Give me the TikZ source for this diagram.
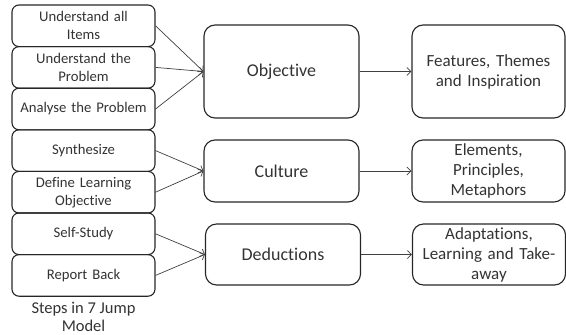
\documentclass[tikz,border=0pt]{standalone}
\usepackage{fontspec}
\setmainfont{Carlito}[RawFeature={-liga}]
\usetikzlibrary{arrows.meta,positioning}

\begin{document}
\begin{tikzpicture}[x=1pt,y=-1pt,
  stepbox/.style={draw=black!85,line width=1.1pt,rounded corners=7pt,
    minimum width=143pt,minimum height=41.6pt,inner sep=1pt,text width=140pt,
    align=center,text=black!80,font=\fontsize{14.7}{18}\selectfont},
  mainbox/.style={draw=black!85,line width=1.1pt,rounded corners=11pt,
    minimum width=155pt,inner sep=1pt,text width=150pt,align=center,
    text=black!80,font=\fontsize{18}{21}\selectfont},
  outbox/.style={draw=black!85,line width=1.1pt,rounded corners=11pt,
    minimum width=153pt,inner sep=1pt,text width=145pt,align=center,
    text=black!80,font=\fontsize{17}{20}\selectfont},
  link/.style={black!75,line width=0.7pt,-{Straight Barb[length=4pt,width=8pt]}}]
\useasboundingbox (0,0) rectangle (566,335);

% Steps in the 7 jump model
\node[stepbox] (s1) at (83.5,25.8) {Understand all\\Items};
\node[stepbox] (s2) at (83.5,67.4) {Understand the\\Problem};
\node[stepbox] (s3) at (83.5,109) {Analyse the Problem};
\node[stepbox] (s4) at (83.5,150.6) {Synthesize};
\node[stepbox] (s5) at (83.5,192.2) {Define Learning\\Objective};
\node[stepbox] (s6) at (83.5,233.8) {Self-Study};
\node[stepbox] (s7) at (83.5,275.4) {Report Back};
\node[align=center,text=black!80,font=\fontsize{16.5}{17.5}\selectfont] (cap) at (83.5,317) {Steps in 7 Jump\\Model};

% Middle column
\node[mainbox,minimum height=93pt] (obj) at (281.5,71.5) {Objective};
\node[mainbox,minimum height=62pt] (cul) at (281.5,171) {Culture};
\node[mainbox,minimum height=61pt] (ded) at (283,254.5) {Deductions};

% Right column
\node[outbox,minimum height=93pt] (feat) at (488.5,71.5) {Features, Themes\\and Inspiration};
\node[outbox,minimum height=62pt] (elem) at (488.5,171) {Elements,\\Principles,\\Metaphors};
\node[outbox,minimum height=61pt] (adap) at (489,254.5) {Adaptations,\\Learning and Take-\\away};

% Connectors
\foreach \s in {s1,s2,s3} \draw[link] (\s.east) -- (obj.west);
\foreach \s in {s4,s5} \draw[link] (\s.east) -- (cul.west);
\foreach \s in {s6,s7} \draw[link] (\s.east) -- (ded.west);
\draw[link] (obj) -- (feat);
\draw[link] (cul) -- (elem);
\draw[link] (ded) -- (adap);
\end{tikzpicture}
\end{document}
